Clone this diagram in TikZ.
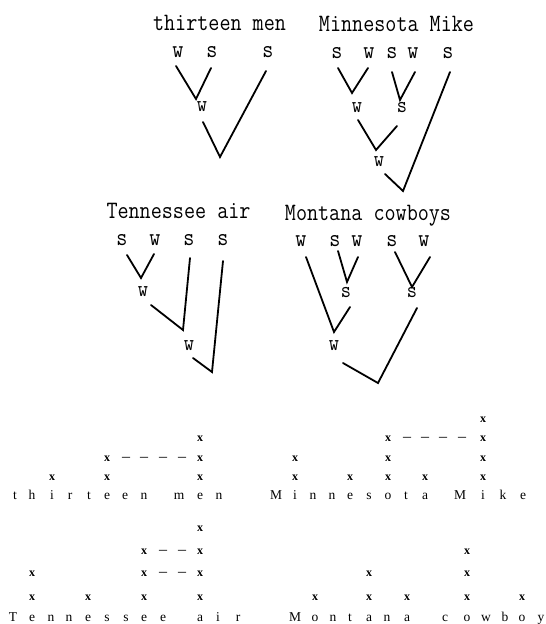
\documentclass[tikz,border=0pt]{standalone}
\usepackage{graphicx}
\usepackage{fontspec}
\setmainfont{Liberation Serif}
\newcommand{\cw}[1]{\scalebox{0.86}[1]{#1}}
\begin{document}
\begin{tikzpicture}[x=1pt,y=-1pt,
  ttl/.style={anchor=base,inner sep=0pt,font=\ttfamily\fontsize{25}{25}\selectfont},
  lab/.style={anchor=base,inner sep=0pt,font=\ttfamily\fontsize{25}{25}\selectfont},
  ilab/.style={anchor=base,inner sep=0pt,font=\ttfamily\fontsize{23}{23}\selectfont},
  br/.style={line width=1.8pt,line cap=round,line join=miter},
  gl/.style={anchor=base,inner sep=0pt,font=\fontsize{13.5}{13.5}\selectfont},
  gx/.style={anchor=base,inner sep=0pt,font=\bfseries\fontsize{12}{12}\selectfont},
  gd/.style={anchor=base,inner sep=0pt,font=\fontsize{16}{16}\selectfont}]
\useasboundingbox (0,0) rectangle (546,624);

% ---------- tree 1: thirteen men ----------
\node[ttl] (t1) at (219.5,30.5) {\cw{thirteen men}};
\node[lab] (t1a) at (178,57.5) {\cw{w}};
\node[lab] (t1b) at (212,57.5) {\cw{s}};
\node[lab] (t1c) at (268,57.5) {\cw{s}};
\node[ilab] (t1d) at (202,111) {\cw{w}};
\coordinate (p1) at (176,66); \coordinate (p2) at (196,99); \coordinate (p3) at (211,68);
\coordinate (p4) at (203,122); \coordinate (p5) at (220,157); \coordinate (p6) at (266,71);
\draw[br] (p1) -- (p2) -- (p3);
\draw[br] (p4) -- (p5) -- (p6);

% ---------- tree 2: Minnesota Mike ----------
\node[ttl] (t2) at (396.5,31) {\cw{Minnesota Mike}};
\node[lab] (t2a) at (337,58) {\cw{s}};
\node[lab] (t2b) at (369,58) {\cw{w}};
\node[lab] (t2c) at (392,58) {\cw{s}};
\node[lab] (t2d) at (413,58) {\cw{w}};
\node[lab] (t2e) at (448,58) {\cw{s}};
\node[ilab] (t2f) at (357,112.5) {\cw{w}};
\node[ilab] (t2g) at (402,112.5) {\cw{s}};
\node[ilab] (t2h) at (379,166.5) {\cw{w}};
\coordinate (q1) at (338,68); \coordinate (q2) at (352,93); \coordinate (q3) at (368,68);
\coordinate (q4) at (392,72); \coordinate (q5) at (400,100); \coordinate (q6) at (415,72);
\coordinate (q7) at (358,120); \coordinate (q8) at (376,150); \coordinate (q9) at (397,126);
\coordinate (q10) at (385,174); \coordinate (q11) at (403,191); \coordinate (q12) at (450,72);
\draw[br] (q1) -- (q2) -- (q3);
\draw[br] (q4) -- (q5) -- (q6);
\draw[br] (q7) -- (q8) -- (q9);
\draw[br] (q10) -- (q11) -- (q12);

% ---------- tree 3: Tennessee air ----------
\node[ttl] (t3) at (178.5,218.5) {\cw{Tennessee air}};
\node[lab] (t3a) at (122,245) {\cw{s}};
\node[lab] (t3b) at (155,245) {\cw{w}};
\node[lab] (t3c) at (189,245) {\cw{s}};
\node[lab] (t3d) at (223,245) {\cw{s}};
\node[ilab] (t3e) at (143,296) {\cw{w}};
\node[ilab] (t3f) at (189,350) {\cw{w}};
\coordinate (r1) at (127,255); \coordinate (r2) at (141,278); \coordinate (r3) at (154,254);
\coordinate (r4) at (151,305); \coordinate (r5) at (183,330); \coordinate (r6) at (190,258);
\coordinate (r7) at (193,358); \coordinate (r8) at (212,372); \coordinate (r9) at (223,261);
\draw[br] (r1) -- (r2) -- (r3);
\draw[br] (r4) -- (r5) -- (r6);
\draw[br] (r7) -- (r8) -- (r9);

% ---------- tree 4: Montana cowboys ----------
\node[ttl] (t4) at (368,220) {\cw{Montana cowboys}};
\node[lab] (t4a) at (301,246) {\cw{w}};
\node[lab] (t4b) at (335,246) {\cw{s}};
\node[lab] (t4c) at (357,246) {\cw{w}};
\node[lab] (t4d) at (392,246) {\cw{s}};
\node[lab] (t4e) at (424,246) {\cw{w}};
\node[ilab] (t4f) at (346,297) {\cw{s}};
\node[ilab] (t4g) at (412,297) {\cw{s}};
\node[ilab] (t4h) at (334,350) {\cw{w}};
\coordinate (s1) at (338,251); \coordinate (s2) at (347,282); \coordinate (s3) at (358,257);
\coordinate (s4) at (395,252); \coordinate (s5) at (412,287); \coordinate (s6) at (430,257);
\coordinate (s7) at (306,257); \coordinate (s8) at (334,332); \coordinate (s9) at (350,307);
\coordinate (s10) at (343,363); \coordinate (s11) at (378,383); \coordinate (s12) at (417,308);
\draw[br] (s1) -- (s2) -- (s3);
\draw[br] (s4) -- (s5) -- (s6);
\draw[br] (s7) -- (s8) -- (s9);
\draw[br] (s10) -- (s11) -- (s12);

% ---------- grid 1: thirteen men ----------
\foreach \c/\x [count=\i] in {t/15,h/32,i/52,r/70,t/89,e/107,e/125,n/144,m/179,e/200,n/219}
  \node[gl] (ga\i) at (\x,499.5) {\c};
\foreach \x/\y [count=\i] in {200/441.3, 107/461.2, 200/461.2, 52/480, 107/480, 200/480}
  \node[gx] (gax\i) at (\x,\y) {x};
\foreach \x [count=\i] in {126,144,163,182}
  \node[gd] (gad\i) at (\x,461.2) {–};

% ---------- grid 2: Minnesota Mike ----------
\foreach \c/\x [count=\i] in {M/276,i/295,n/313,n/332,e/350,s/369,o/388,t/406,a/425,M/460,i/483,k/503,e/523}
  \node[gl] (gb\i) at (\x,499.5) {\c};
\foreach \x/\y [count=\i] in {483/422.5, 388/441.3, 483/441.3, 295/461.2, 388/461.2, 483/461.2,
    295/480, 350/480, 388/480, 425/480, 483/480}
  \node[gx] (gbx\i) at (\x,\y) {x};
\foreach \x [count=\i] in {407,425,443,462}
  \node[gd] (gbd\i) at (\x,441.3) {–};

% ---------- grid 3: Tennessee air ----------
\foreach \c/\x [count=\i] in {T/13,e/32,n/51,n/69,e/88,s/107,s/126,e/144,e/163,a/200,i/218,r/238}
  \node[gl] (gc\i) at (\x,621.5) {\c};
\foreach \x/\y [count=\i] in {200/531, 144/554.6, 200/554.6, 32/576.2, 144/576.2, 200/576.2,
    32/600.2, 88/600.2, 144/600.2, 200/600.2}
  \node[gx] (gcx\i) at (\x,\y) {x};
\foreach \x/\y [count=\i] in {163/554.6, 182/554.6, 163/576.2, 182/576.2}
  \node[gd] (gcd\i) at (\x,\y) {–};

% ---------- grid 4: Montana cowboy ----------
\foreach \c/\x [count=\i] in {M/295,o/315,n/333,t/350,a/369,n/387,a/407,c/445,o/467,w/486,b/505,o/522,y/541}
  \node[gl] (gd\i) at (\x,621.5) {\c};
\foreach \x/\y [count=\i] in {467/554.6, 369/576.2, 467/576.2,
    315/600.2, 369/600.2, 407/600.2, 467/600.2, 522/600.2}
  \node[gx] (gdx\i) at (\x,\y) {x};
\end{tikzpicture}
\end{document}
